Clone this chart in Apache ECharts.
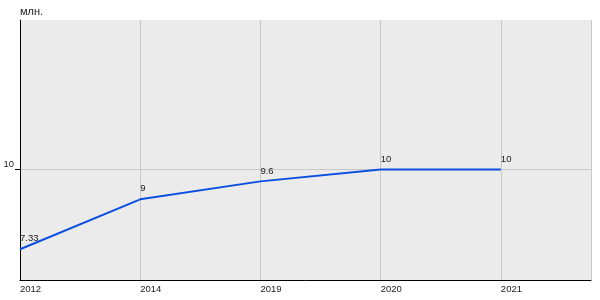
<!DOCTYPE html>
<html><head><meta charset="utf-8">
<script src="https://cdn.jsdelivr.net/npm/echarts@6/dist/echarts.min.js"></script>
<style>html,body{margin:0;padding:0;background:#fff}#c{width:600px;height:300px}</style>
</head><body><div id="c"></div>
<script>
const categories = ['2012', '2014', '2019', '2020', '2021'];
const values = [7.33, 9, 9.6, 10, 10];
const yTickValues = [10];
const unitLabel = 'млн.';

const chart = echarts.init(document.getElementById('c'), null, {renderer: 'canvas'});
const font = 'Liberation Sans, Arial, sans-serif';
chart.setOption({
  animation: false,
  grid: {left: 20, top: 20, right: 9, bottom: 20, show: true, backgroundColor: '#ebebeb', borderWidth: 0, containLabel: false, outerBoundsMode: 'none'},
  xAxis: {
    type: 'value', min: 0, max: 4.75, interval: 1,
    axisLine: {onZero: false, lineStyle: {color: '#000', width: 1}},
    axisTick: {show: false},
    splitLine: {show: true, lineStyle: {color: '#c8c8c8', width: 1}},
    axisLabel: {
      color: '#222', fontFamily: font, fontSize: 9.5, align: 'left', margin: 4,
      showMaxLabel: false,
      formatter: v => (Number.isInteger(v) && categories[v] !== undefined) ? categories[v] : ''
    }
  },
  yAxis: {
    type: 'value', min: 6.3, max: 15,
    name: unitLabel, nameLocation: 'end', nameGap: 3,
    nameTextStyle: {color: '#222', fontFamily: font, fontSize: 11, align: 'left'},
    axisLine: {show: true, lineStyle: {color: '#000', width: 1}},
    axisTick: {show: true, length: 5, customValues: yTickValues, lineStyle: {color: '#000'}},
    splitLine: {show: true, lineStyle: {color: '#c8c8c8', width: 1}},
    axisLabel: {color: '#222', fontFamily: font, fontSize: 9.5, margin: 6, customValues: yTickValues, verticalAlign: 'bottom', lineHeight: 10}
  },
  series: [{
    type: 'line',
    data: values.map((v, i) => [i, v]),
    showSymbol: true, symbol: 'circle', symbolSize: 1,
    itemStyle: {color: 'rgba(0,0,0,0)', borderWidth: 0},
    lineStyle: {color: '#0a4fe0', width: 2},
    label: {
      show: true, position: 'top', align: 'left', distance: 5,
      color: '#222', fontFamily: font, fontSize: 9.5,
      formatter: p => String(p.value[1])
    }
  }]
});
</script></body></html>
